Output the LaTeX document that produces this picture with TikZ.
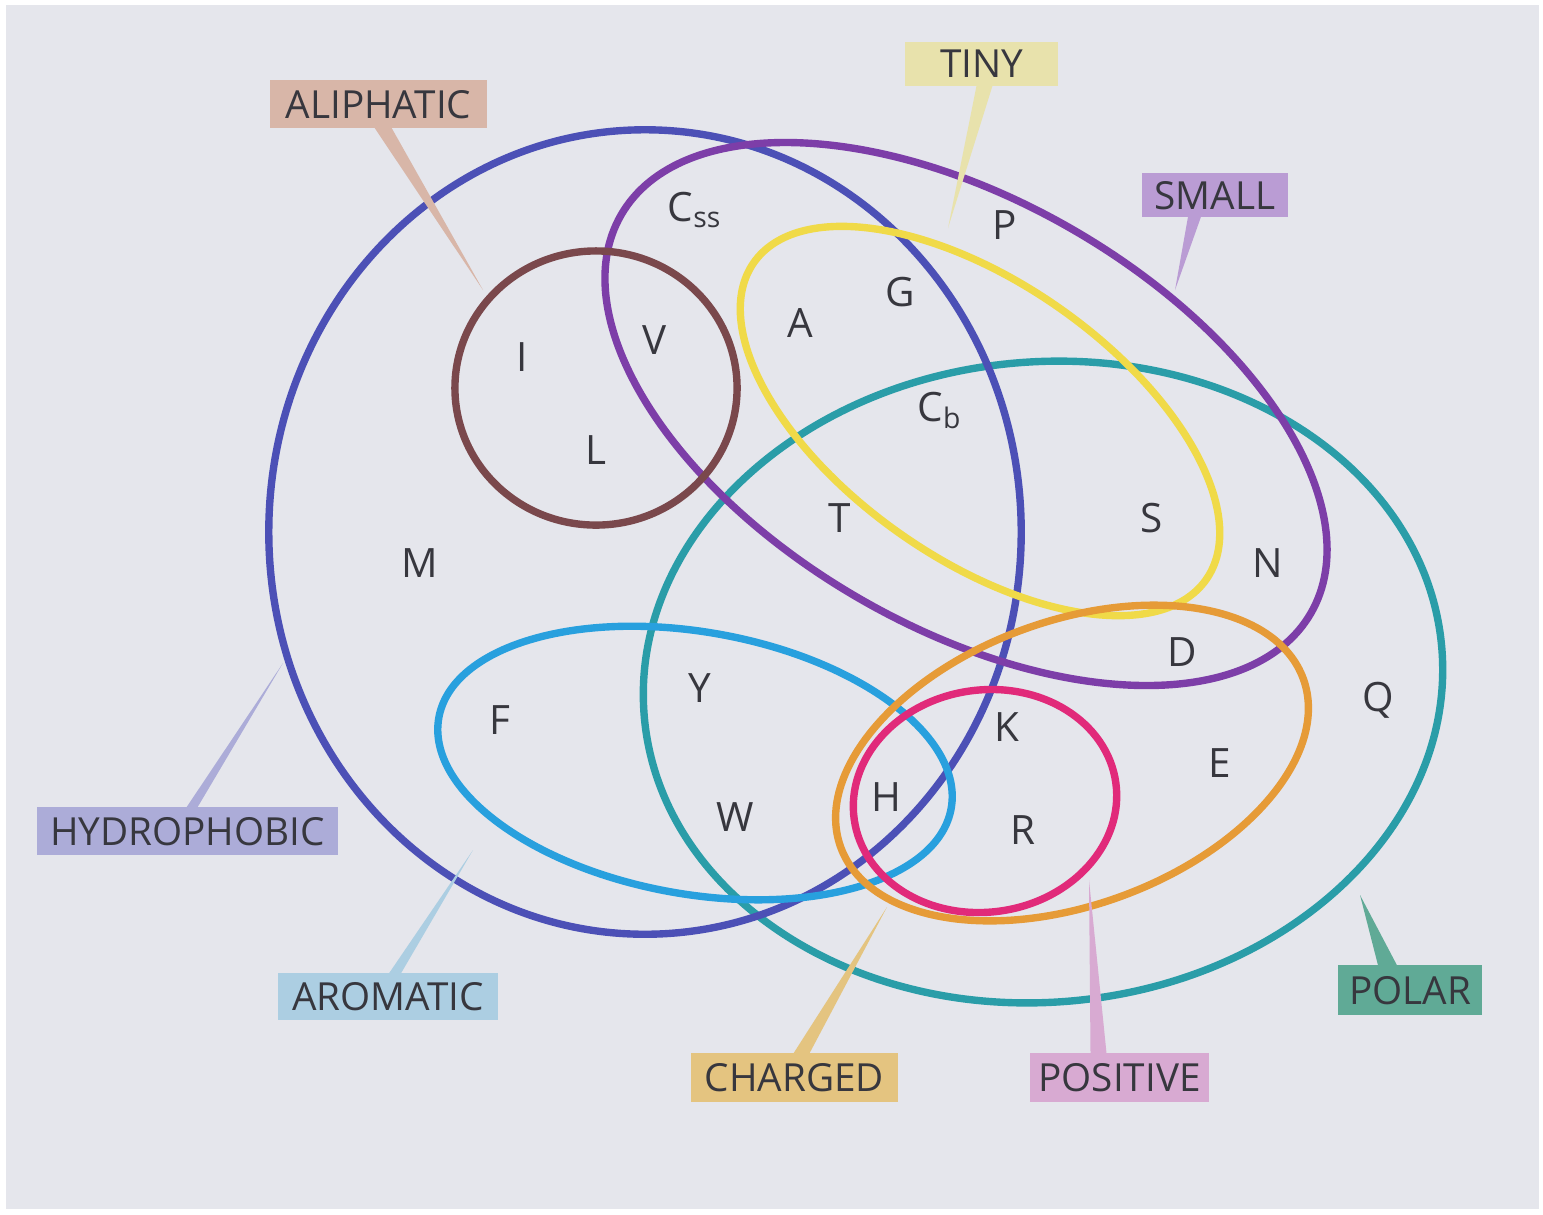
\documentclass[tikz,border=0pt]{standalone}
\usepackage{fontspec}
\setmainfont{Open Sans}
\usetikzlibrary{calc}
\definecolor{bgc}{RGB}{229,230,236}
\definecolor{txt}{RGB}{55,55,62}
\definecolor{hydc}{RGB}{76,80,182}
\definecolor{smlc}{RGB}{125,62,168}
\definecolor{tinc}{RGB}{240,218,72}
\definecolor{polc}{RGB}{42,157,168}
\definecolor{aroc}{RGB}{40,160,222}
\definecolor{chac}{RGB}{230,155,55}
\definecolor{posc}{RGB}{225,42,122}
\definecolor{alic}{RGB}{122,72,76}
\definecolor{alif}{RGB}{216,182,168}
\definecolor{tinf}{RGB}{232,226,172}
\definecolor{smlf}{RGB}{186,156,212}
\definecolor{hydf}{RGB}{172,172,216}
\definecolor{arof}{RGB}{172,206,226}
\definecolor{chaf}{RGB}{228,196,128}
\definecolor{posf}{RGB}{216,170,210}
\definecolor{polf}{RGB}{96,170,150}
\tikzset{
  setline/.style={line width=2.1pt},
  aa/.style={text=txt, font=\fontsize{11.5}{12}\selectfont, inner sep=0pt},
  lbl/.style={text=txt, font=\fontsize{11}{12}\selectfont, inner sep=0pt, minimum height=0.48cm, text depth=0pt},
}
\begin{document}
\begin{tikzpicture}[x=0.01cm,y=-0.01cm]
\fill[white] (0,0) rectangle (1543,1214);
\fill[bgc] (6,5) rectangle (1539,1209);
\useasboundingbox (0,0) rectangle (1543,1214);

% sets
\draw[setline, polc] (1043,682) circle [x radius=4.00cm, y radius=3.20cm, rotate=5];
\draw[setline, hydc] (645,532) circle [x radius=3.76cm, y radius=4.02cm];
\draw[setline, smlc] (966,414) circle [x radius=3.98cm, y radius=2.13cm, rotate=-30];
\draw[setline, tinc] (980,421) circle [x radius=2.76cm, y radius=1.38cm, rotate=-35];
\draw[setline, aroc] (695,763) circle [x radius=2.60cm, y radius=1.31cm, rotate=-10];
\draw[setline, chac] (1072,763) circle [x radius=2.46cm, y radius=1.42cm, rotate=20];
\draw[setline, posc] (985,801) circle [x radius=1.32cm, y radius=1.11cm, rotate=8];
\draw[setline, alic] (596,388) circle [x radius=1.41cm, y radius=1.37cm];

% amino acids
\node[aa] (Css) at (695,210) {C\textsubscript{ss}};
\node[aa] (P) at (1005,225) {P};
\node[aa] (G) at (900,292) {G};
\node[aa] (A) at (800,323) {A};
\node[aa] (V) at (655,340) {V};
\node[aa] (I) at (522,357) {I};
\node[aa] (L) at (596,450) {L};
\node[aa] (Cb) at (940,410) {C\textsubscript{b}};
\node[aa] (T) at (840,518) {T};
\node[aa] (S) at (1152,518) {S};
\node[aa] (N) at (1268,563) {N};
\node[aa] (M) at (420,563) {M};
\node[aa] (D) at (1182,652) {D};
\node[aa] (Y) at (700,688) {Y};
\node[aa] (F) at (500,720) {F};
\node[aa] (K) at (1007,727) {K};
\node[aa] (Q) at (1378,700) {Q};
\node[aa] (E) at (1220,763) {E};
\node[aa] (H) at (886,797) {H};
\node[aa] (W) at (735,817) {W};
\node[aa] (R) at (1023,830) {R};

% labels
\node[lbl, fill=alif, minimum width=2.17cm] (ali) at (378.5,104) {ALIPHATIC};
\node[lbl, fill=tinf, minimum width=1.53cm, minimum height=0.44cm] (tin) at (981.5,64) {TINY};
\node[lbl, fill=smlf, minimum width=1.46cm, minimum height=0.44cm] (sml) at (1215,195) {SMALL};
\node[lbl, fill=hydf, minimum width=3.01cm] (hyd) at (187.5,831) {HYDROPHOBIC};
\node[lbl, fill=arof, minimum width=2.20cm, minimum height=0.47cm] (aro) at (388,996.5) {AROMATIC};
\node[lbl, fill=chaf, minimum width=2.07cm, minimum height=0.49cm] (cha) at (794.5,1077.5) {CHARGED};
\node[lbl, fill=posf, minimum width=1.79cm, minimum height=0.49cm] (pos) at (1119.5,1077.5) {POSITIVE};
\node[lbl, fill=polf, minimum width=1.44cm, minimum height=0.50cm] (pol) at (1410,990) {POLAR};

% pointer tips
\coordinate (alitip) at (483,290);
\coordinate (tintip) at (948,228);
\coordinate (smltip) at (1175,290);
\coordinate (hydtip) at (283,663);
\coordinate (arotip) at (473,850);
\coordinate (chatip) at (887,907);
\coordinate (postip) at (1089,880);
\coordinate (poltip) at (1360,895);

% pointers
\fill[alif] ($(ali.south)+(-4,-1)$) -- ($(ali.south)+(13,-1)$) -- (alitip) -- cycle;
\fill[tinf] ($(tin.south)+(-5,-1)$) -- ($(tin.south)+(11,-1)$) -- (tintip) -- cycle;
\fill[smlf] ($(sml.south)+(-27,-1)$) -- ($(sml.south)+(-14,-1)$) -- (smltip) -- cycle;
\fill[hydf] ($(hyd.north)+(-1,1)$) -- ($(hyd.north)+(10,1)$) -- (hydtip) -- cycle;
\fill[arof] ($(aro.north)+(1,1)$) -- ($(aro.north)+(13,1)$) -- (arotip) -- cycle;
\fill[chaf] ($(cha.north)+(-1,1)$) -- ($(cha.north)+(15,1)$) -- (chatip) -- cycle;
\fill[posf] ($(pos.north)+(-29,1)$) -- ($(pos.north)+(-13,1)$) -- (postip) -- cycle;
\fill[polf] ($(pol.north)+(-32,1)$) -- ($(pol.north)+(-13,1)$) -- (poltip) -- cycle;
\end{tikzpicture}
\end{document}
